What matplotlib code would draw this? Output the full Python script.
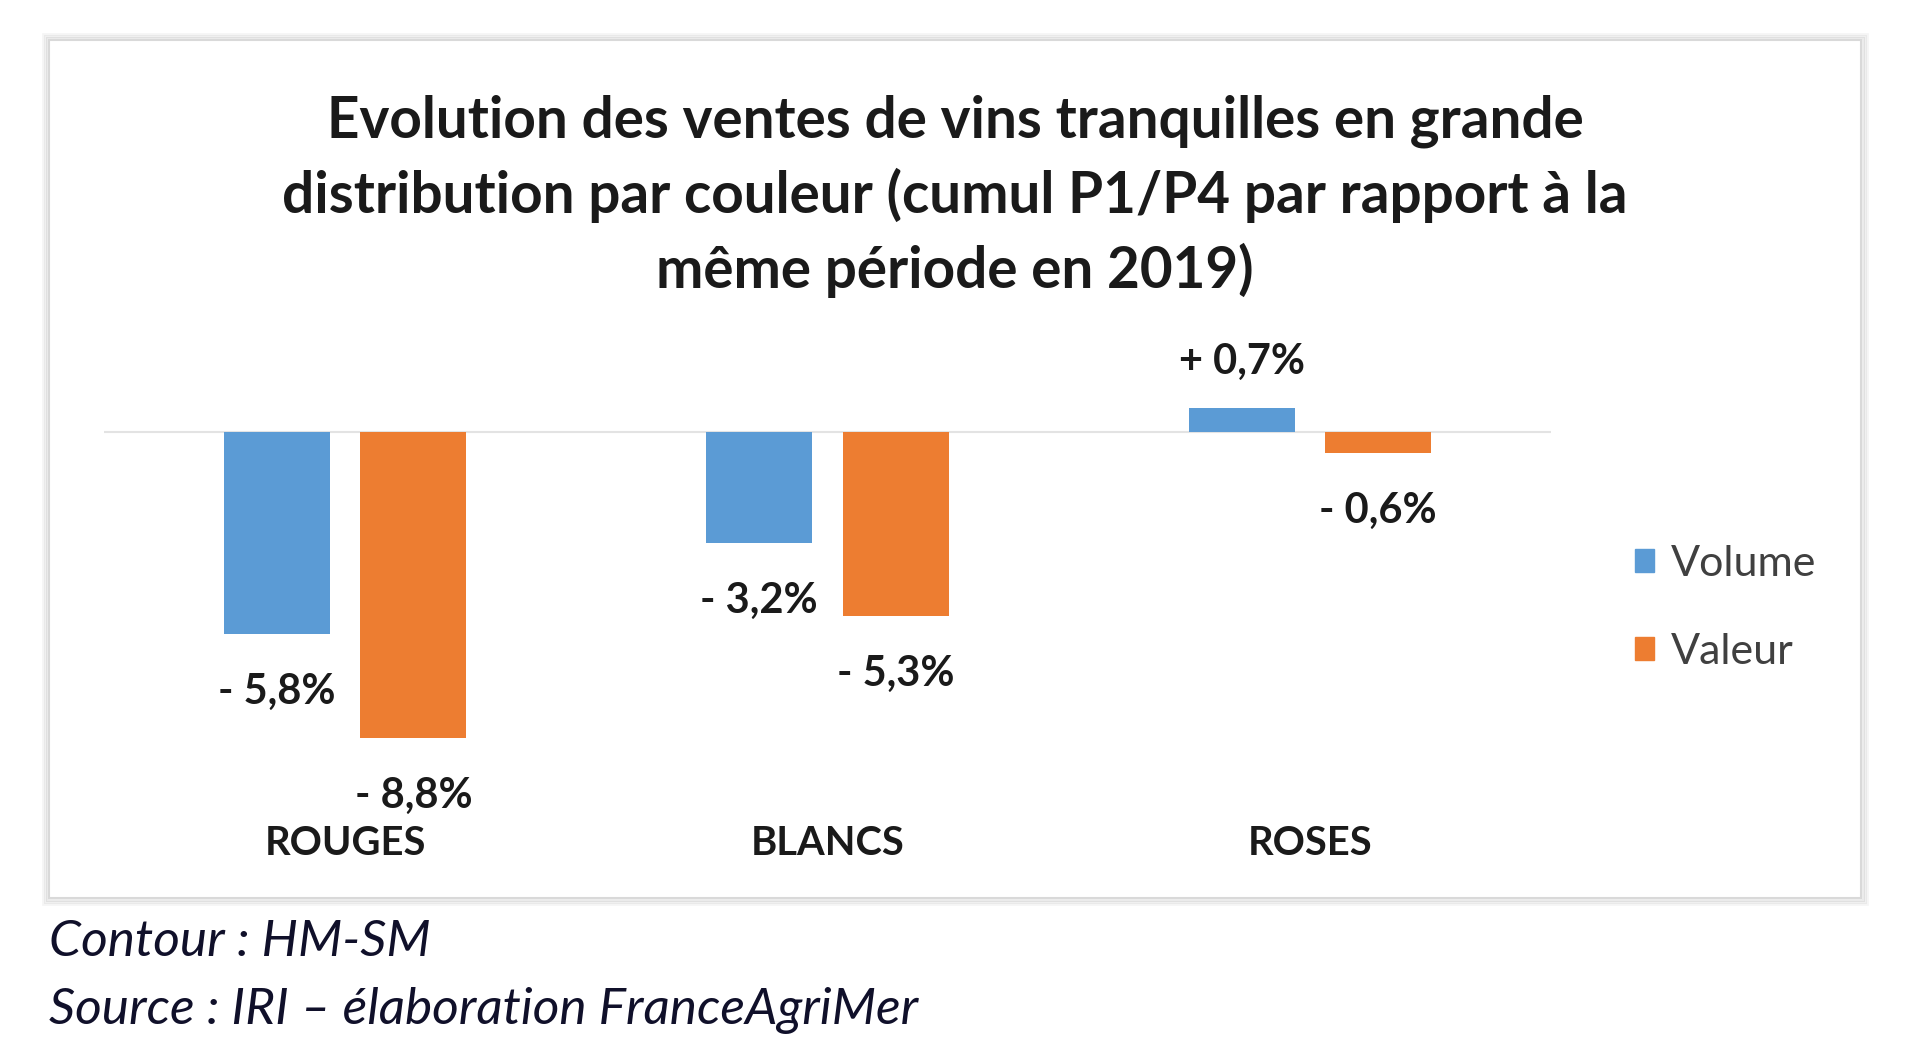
import matplotlib
matplotlib.use("Agg")
import matplotlib.pyplot as plt
from matplotlib.patches import Rectangle, Patch

categories = ["ROUGES", "BLANCS", "ROSES"]
series_names = ["Volume", "Valeur"]
volume = [-5.8, -3.2, 0.7]
valeur = [-8.8, -5.3, -0.6]
title = ("Evolution des ventes de vins tranquilles en grande\n"
         "distribution par couleur (cumul P1/P4 par rapport à la\n"
         "même période en 2019)")
footer1 = "Contour : HM-SM"
footer2 = "Source : IRI – élaboration FranceAgriMer"

plt.rcParams["font.family"] = ["Lato", "DejaVu Sans"]

BLUE = "#5B9BD5"
ORANGE = "#ED7D31"
W, H = 1920, 1061
fig = plt.figure(figsize=(W / 100, H / 100), dpi=100)
fig.patch.set_facecolor("white")

# frame with subtle shadow
x0, y0, x1, y1 = 49, 40, 1861, 898
for k, a in [(6, 0.04), (4, 0.06), (2, 0.08)]:
    fig.patches.append(Rectangle(((x0 - k) / W, 1 - (y1 + k) / H), (x1 - x0 + 2 * k) / W,
                                 (y1 - y0 + 2 * k) / H, transform=fig.transFigure,
                                 facecolor="none", edgecolor=(0, 0, 0, a), lw=2, zorder=-2))
fig.patches.append(Rectangle((x0 / W, 1 - y1 / H), (x1 - x0) / W, (y1 - y0) / H,
                             transform=fig.transFigure, facecolor="white",
                             edgecolor="#d9d9d9", lw=1.5, zorder=-1))

# axes
top_px, bot_px, zero_px, ppu = 355, 815, 432, 34.8
ax = fig.add_axes([104 / W, 1 - bot_px / H, (1551 - 104) / W, (bot_px - top_px) / H])
ax.set_zorder(3)
ax.set_facecolor("none")
ax.set_xlim(-0.5, len(categories) - 0.5)
ax.set_ylim(-(bot_px - zero_px) / ppu, (zero_px - top_px) / ppu)
for s in ax.spines.values():
    s.set_visible(False)
ax.set_yticks([])
ax.axhline(0, color="#e3e3e3", lw=1.5, zorder=1)

bw, off = 0.22, 0.1415
xs = list(range(len(categories)))
b1 = ax.bar([x - off for x in xs], volume, bw, color=BLUE, zorder=2, label=series_names[0])
b2 = ax.bar([x + off for x in xs], valeur, bw, color=ORANGE, zorder=2, label=series_names[1])

def fmt(v):
    return ("+ " if v > 0 else "- ") + f"{abs(v):.1f}".replace(".", ",") + "%"

for bars, vals in [(b1, volume), (b2, valeur)]:
    for rect, v in zip(bars, vals):
        xc = rect.get_x() + rect.get_width() / 2
        ax.annotate(fmt(v), (xc, v), xytext=(0, 33 if v > 0 else -41.5),
                    textcoords="offset points", ha="center", va="center",
                    fontsize=30, fontweight="bold", color="#1a1a1a")

ax.set_xticks(xs)
ax.set_xticklabels(categories, fontsize=28.7, fontweight="bold", color="#1a1a1a")
ax.tick_params(axis="x", length=0, pad=7)

# legend
handles = [Patch(color=BLUE), Patch(color=ORANGE)]
fig.legend(handles, series_names, loc="center left", bbox_to_anchor=(1596 / W, 1 - 608 / H),
           frameon=False, fontsize=31, labelcolor="#404040", handlelength=0.45,
           handleheight=0.45, handletextpad=0.4, labelspacing=1.15)

fig.text(955 / W, 1 - 196 / H, title, ha="center", va="center", fontsize=40.8,
         fontweight="bold", color="#1a1a1a", linespacing=1.44)

fig.text(49 / W, 1 - 942 / H, footer1, ha="left", va="center", fontsize=37,
         style="italic", color="#10102a")
fig.text(49 / W, 1 - 1011 / H, footer2, ha="left", va="center", fontsize=37,
         style="italic", color="#10102a")

fig.savefig("out.png", dpi=100, facecolor="white")
